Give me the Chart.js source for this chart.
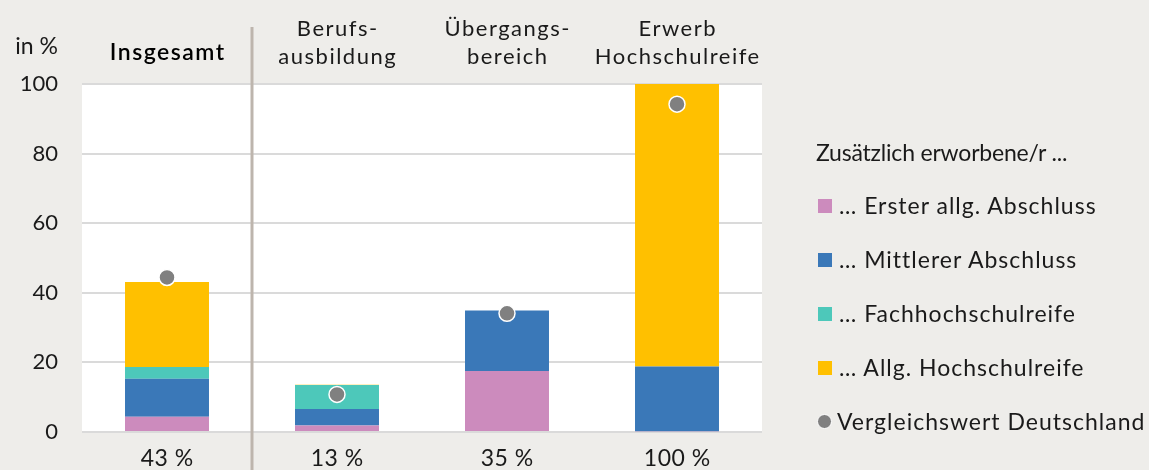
<!DOCTYPE html>
<html><head><meta charset="utf-8">
<script src="https://cdn.jsdelivr.net/npm/chart.js@4.4.1/dist/chart.umd.min.js"></script>
<style>
html,body{margin:0;padding:0;background:#EEEDEA;}
#wrap{position:relative;width:1149px;height:470px;font-family:Lato,sans-serif;color:#1a1a1a;overflow:hidden;}
canvas{position:absolute;left:0;top:0;}
.t{position:absolute;font-size:22px;line-height:22px;white-space:nowrap;}
.it{font-size:23px;line-height:23px;letter-spacing:1px;}
.ti{font-size:23px;line-height:23px;letter-spacing:-0.2px;}
.sq{position:absolute;width:14px;height:14px;}
.dot{position:absolute;width:13px;height:13px;border-radius:50%;background:#808080;border:1.5px solid #fff;}
</style></head>
<body>
<div id="wrap">
<canvas id="c" width="1149" height="470"></canvas>
<div class="t" style="right:1091px;top:34px;font-size:23px;">in %</div>
<div id="legend"></div>
</div>
<script>
const categories = ['Insgesamt','Berufsausbildung','Übergangsbereich','Erwerb Hochschulreife'];
const topLabels = [['Insgesamt'], ['Berufs-','ausbildung'], ['Übergangs-','bereich'], ['Erwerb','Hochschulreife']];
const bottomLabels = ['43 %','13 %','35 %','100 %'];
const ersterAbschluss = [4.4, 1.9, 17.5, 0.2];
const mittlererAbschluss = [10.9, 4.7, 17.4, 18.6];
const fachhochschulreife = [3.4, 6.9, 0, 0];
const allgHochschulreife = [24.4, 0.1, 0, 81.2];
const vergleichswert = [44.4, 10.8, 34.1, 94.2];
const yTicks = [0, 20, 40, 60, 80, 100];
const legendTitle = 'Zusätzlich erworbene/r ...';
const seriesNames = ['… Erster allg. Abschluss','… Mittlerer Abschluss','… Fachhochschulreife','… Allg. Hochschulreife','Vergleichswert Deutschland'];
const colors = ['#CC8BBD','#3A78B8','#4DC8BA','#FFC000','#808080'];

// HTML legend
const lg = document.getElementById('legend');
let html = '<div class="t ti" style="left:816px;top:141px;">'+legendTitle+'</div>';
const centers = [206, 260, 314, 368, 422];
seriesNames.forEach((n,i)=>{
  const cy = centers[i];
  if (i < 4) html += '<div class="sq" style="left:818px;top:'+(cy-7)+'px;background:'+colors[i]+'"></div>';
  else html += '<div class="dot" style="left:817px;top:'+(cy-8)+'px;"></div>';
  html += '<div class="t it" style="left:'+(i<4?839:837)+'px;top:'+(cy-12)+'px;">'+n+'</div>';
});
lg.innerHTML = html;

const bgPlugin = {
  id:'bg',
  beforeDraw(chart){
    const {ctx, chartArea:a} = chart;
    ctx.save(); ctx.fillStyle='#fff';
    ctx.fillRect(a.left, a.top, a.right-a.left, a.bottom-a.top);
    ctx.restore();
  },
  afterDraw(chart){
    const {ctx} = chart; const x = chart.scales.x;
    const px = (x.getPixelForValue(0)+x.getPixelForValue(1))/2;
    ctx.save(); ctx.fillStyle='#BDB5AD';
    ctx.fillRect(px-1.5, 27, 3, 470-27);
    ctx.restore();
  }
};

function spaced(s, sp){
  if (s._spPatched) return;
  const orig = s.drawLabels;
  s.drawLabels = function(area){
    const ctx = this.ctx; ctx.save(); ctx.letterSpacing = sp; ctx.translate(parseFloat(sp)/2, 0); orig.call(this, area); ctx.restore();
  };
  s._spPatched = true;
}

const barDs = (label, data, color) => ({
  label, data, backgroundColor: color, stack:'s', borderWidth:0,
  barPercentage:0.494, categoryPercentage:1, order:1
});

new Chart(document.getElementById('c'), {
  type:'bar',
  data:{
    labels: bottomLabels,
    datasets:[
      barDs(seriesNames[0], ersterAbschluss, colors[0]),
      barDs(seriesNames[1], mittlererAbschluss, colors[1]),
      barDs(seriesNames[2], fachhochschulreife, colors[2]),
      barDs(seriesNames[3], allgHochschulreife, colors[3]),
      {type:'line', label:seriesNames[4], data:vergleichswert, showLine:false, stack:'dots',
       pointRadius:8, pointHoverRadius:8, pointBackgroundColor:'#808080', pointBorderColor:'#fff',
       pointBorderWidth:1.5, order:-1}
    ]
  },
  plugins:[bgPlugin],
  options:{
    responsive:false, animation:false, devicePixelRatio:1,
    layout:{padding:{left:0,right:387,top:0,bottom:0}},
    plugins:{legend:{display:false}, tooltip:{enabled:false}},
    scales:{
      x:{stacked:true, offset:true, grid:{display:false, drawTicks:false}, border:{display:false},
         ticks:{color:'#1a1a1a', font:{family:'Lato', size:23}, padding:13, maxRotation:0, autoSkip:false},
         afterFit(s){ s.height = 38; spaced(s, '0.5px'); }},
      x2:{type:'category', labels: topLabels, position:'top', offset:true,
         grid:{display:false, drawTicks:false}, border:{display:false},
         ticks:{color:(c)=> c.index===0 ? '#000' : '#1a1a1a',
                font:(c)=> c.index===0 ? {family:'Lato', size:23, weight:'600', lineHeight:1.565} : {family:'Lato', size:22, lineHeight:1.27},
                padding:13, maxRotation:0, autoSkip:false},
         afterFit(s){ s.height = 84; spaced(s, '1.5px'); }},
      y:{stacked:true, min:0, max:100,
         afterBuildTicks(s){ s.ticks = yTicks.map(v=>({value:v})); },
         grid:{color:'#DADADA', lineWidth:2, drawTicks:false}, border:{display:false},
         ticks:{color:'#1a1a1a', font:{family:'Lato', size:22}, padding:24},
         afterFit(s){ s.width = 82; }}
    }
  }
});
</script>
</body></html>
